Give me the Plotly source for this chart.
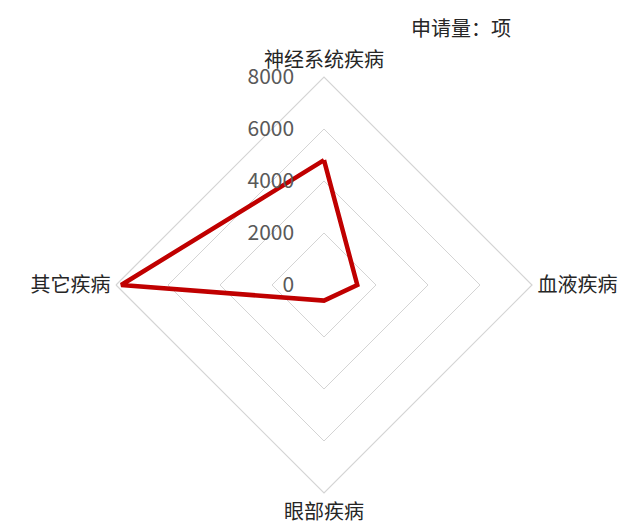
import plotly.graph_objects as go

# Patent application counts by disease area
categories = ["神经系统疾病", "血液疾病", "眼部疾病", "其它疾病"]
counts = [4800, 1280, 600, 7800]
radial_ticks = [0, 2000, 4000, 6000, 8000]
unit_label = "申请量：项"

font_family = "Noto Sans CJK SC, Microsoft YaHei, sans-serif"

fig = go.Figure()
fig.add_trace(go.Scatterpolar(
    r=counts + counts[:1],
    theta=categories + categories[:1],
    mode="lines",
    line=dict(color="#C00000", width=4.5),
    hoverinfo="skip",
    showlegend=False,
))

W, H = 638, 527
cx, cy, rad = 324, 285, 208
fig.update_layout(
    width=W, height=H,
    margin=dict(l=0, r=0, t=0, b=0),
    paper_bgcolor="white",
    plot_bgcolor="white",
    font=dict(family=font_family),
    polar=dict(
        domain=dict(x=[(cx - rad) / W, (cx + rad) / W],
                    y=[(H - cy - rad) / H, (H - cy + rad) / H]),
        bgcolor="white",
        gridshape="linear",
        radialaxis=dict(
            range=[0, 8000],
            tickvals=radial_ticks,
            ticktext=[str(v) for v in radial_ticks],
            angle=90,
            tickangle=90,
            side="counterclockwise",
            showline=False,
            # invisible ticks push the labels away from the axis
            ticks="outside",
            ticklen=22,
            tickcolor="rgba(0,0,0,0)",
            gridcolor="#D4D4D4",
            gridwidth=1.2,
            tickfont=dict(size=21, color="#595959", family=font_family),
        ),
        angularaxis=dict(
            rotation=90,
            direction="clockwise",
            showgrid=False,
            showline=True,
            linecolor="#D4D4D4",
            linewidth=1.2,
            ticks="outside",
            ticklen=1,
            tickcolor="rgba(0,0,0,0)",
            tickfont=dict(size=20, color="#262626", family=font_family),
        ),
    ),
    annotations=[dict(
        text=unit_label, x=513 / W, y=1 - 28 / H, xref="paper", yref="paper",
        xanchor="right", yanchor="middle", showarrow=False,
        font=dict(size=20, color="#262626", family=font_family),
    )],
)

fig.write_html("out.html")
